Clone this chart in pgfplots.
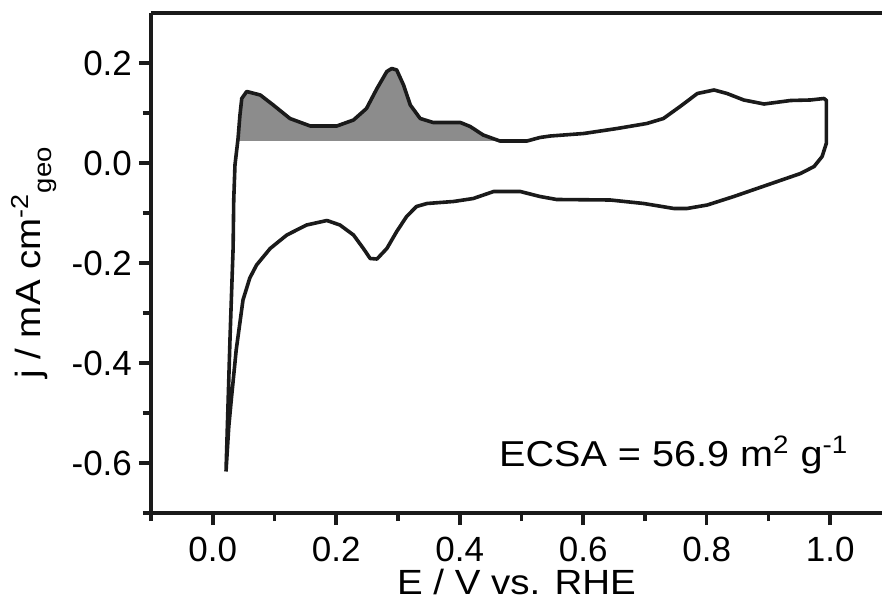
\documentclass[border=0pt]{standalone}
\usepackage{amsmath}
\usepackage{fontspec}
\setmainfont{Liberation Sans}
\newfontfamily\labelfont{Liberation Sans}[FakeStretch=1.1]
\usepackage{pgfplots}
\pgfplotsset{compat=1.18}
\definecolor{curve}{HTML}{1A1A1A}
\definecolor{shade}{HTML}{8C8C8C}
\begin{document}
\begin{tikzpicture}
\pgfplotsset{every non boxed y axis/.style={}, every non boxed x axis/.style={}}
\begin{axis}[
  scale only axis, width=365.5pt, height=250pt,
  xmin=-0.1, xmax=1.084, ymin=-0.7, ymax=0.3,
  axis x line=box, axis y line*=left,
  axis line style={line width=2pt, color=curve, -},
  xtick={0,0.2,0.4,0.6,0.8,1.0},
  minor xtick={-0.1,0.1,0.3,0.5,0.7,0.9},
  ytick={-0.6,-0.4,-0.2,0,0.2},
  minor ytick={-0.7,-0.5,-0.3,-0.1,0.1},
  xtick pos=bottom, ytick pos=left,
  tick align=outside,
  major tick length=6pt, minor tick length=4pt,
  every tick/.style={line width=1.8pt, color=curve},
  tick label style={font=\fontsize{17.5}{20}\selectfont},
  xticklabel style={inner sep=1pt, yshift=-4.8pt},
  label style={font=\labelfont\fontsize{17.5}{21}\selectfont},
  /pgf/number format/.cd, fixed, fixed zerofill, precision=1, assume math mode=true,
  /pgfplots/.cd,
  xlabel={E / V vs. RHE},
  ylabel={j / mA cm\textsuperscript{-2}\raisebox{-0.32em}{\fontsize{12.5}{15}\selectfont geo}},
  xlabel style={at={(axis description cs:0.5,-0.163)}, anchor=base, inner sep=0pt},
  ylabel style={at={(axis description cs:-0.151,0.5)}, anchor=base},
  clip=false,
]
\coordinate (O) at (rel axis cs:0,0);
% shaded hydrogen desorption area
\addplot[fill=shade, draw=none] coordinates {
(0.041,0.044) (0.041,0.049) (0.044,0.095) (0.047,0.129) (0.055,0.143)
(0.077,0.136) (0.098,0.116) (0.125,0.089) (0.158,0.074) (0.201,0.074)
(0.228,0.086) (0.249,0.109) (0.266,0.149) (0.282,0.183) (0.290,0.189)
(0.298,0.186) (0.309,0.156) (0.320,0.116) (0.336,0.089) (0.357,0.081)
(0.401,0.081) (0.417,0.073) (0.438,0.056) (0.460,0.045) (0.460,0.044)
};
% cyclic voltammogram
\addplot[color=curve, line width=1.8pt, line join=round] coordinates {
(0.0215,-0.617) (0.028,-0.35) (0.033,-0.17) (0.034,-0.074) (0.036,-0.004)
(0.041,0.049) (0.044,0.095) (0.047,0.129) (0.055,0.143)
(0.077,0.136) (0.098,0.116) (0.125,0.089) (0.158,0.074) (0.201,0.074)
(0.228,0.086) (0.249,0.109) (0.266,0.149) (0.282,0.183) (0.290,0.189)
(0.298,0.186) (0.309,0.156) (0.320,0.116) (0.336,0.089) (0.357,0.081)
(0.401,0.081) (0.417,0.073) (0.438,0.056) (0.465,0.044) (0.509,0.044)
(0.530,0.051) (0.547,0.054)
(0.601,0.059) (0.655,0.069) (0.703,0.079) (0.730,0.089) (0.757,0.113)
(0.785,0.139) (0.812,0.146) (0.833,0.139) (0.860,0.126) (0.893,0.118)
(0.936,0.125) (0.968,0.126) (0.990,0.129) (0.994,0.125) (0.994,0.040)
(0.987,0.013) (0.974,-0.007) (0.952,-0.021) (0.898,-0.044) (0.844,-0.067)
(0.801,-0.084) (0.768,-0.091) (0.747,-0.091) (0.698,-0.081) (0.644,-0.074)
(0.557,-0.073) (0.530,-0.067) (0.498,-0.057) (0.455,-0.057) (0.422,-0.071)
(0.390,-0.077) (0.347,-0.081) (0.330,-0.087) (0.314,-0.107) (0.298,-0.137)
(0.282,-0.171) (0.266,-0.192) (0.255,-0.191) (0.244,-0.171) (0.228,-0.144)
(0.206,-0.124) (0.185,-0.115) (0.152,-0.124) (0.120,-0.144) (0.093,-0.171)
(0.071,-0.204) (0.060,-0.230) (0.049,-0.274) (0.038,-0.374) (0.030,-0.474)
(0.026,-0.527) (0.0215,-0.617)
};
\node[anchor=base east, font=\labelfont\fontsize{18}{21}\selectfont, inner sep=0pt]
  at (axis cs:1.030,-0.607) {ECSA = 56.9 m\textsuperscript{2} g\textsuperscript{-1}};
\end{axis}
\pgfresetboundingbox
\path ([shift={(-75.5pt,-46pt)}]O) rectangle ([shift={(365.5pt,256.5pt)}]O);
\end{tikzpicture}
\end{document}
